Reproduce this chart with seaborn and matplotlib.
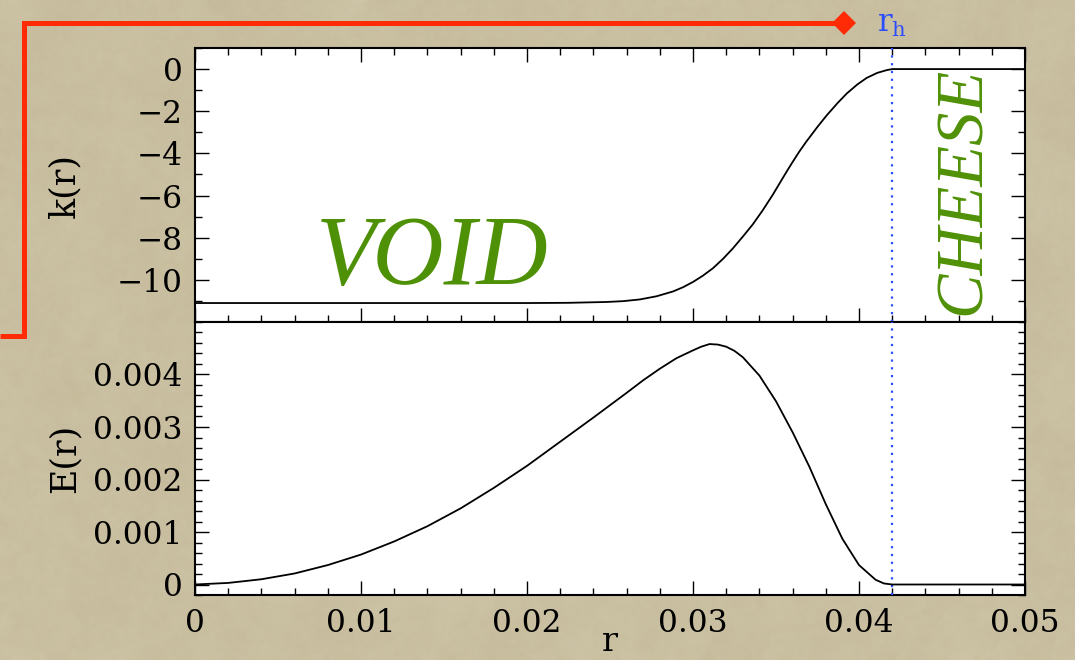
import numpy as np
import matplotlib
matplotlib.use("Agg")
import matplotlib.pyplot as plt
import matplotlib.transforms as mtransforms
from matplotlib.colors import LinearSegmentedColormap
from matplotlib.lines import Line2D
from matplotlib.ticker import MultipleLocator
import seaborn as sns

# Curvature profile k(r) of the LTB hole
r_k = [0.0, 0.005, 0.010, 0.015, 0.020, 0.0225, 0.0248, 0.0258, 0.0268, 0.0278,
       0.0288, 0.0294, 0.0300, 0.0306, 0.0312, 0.0318, 0.0324, 0.0330, 0.0336,
       0.0342, 0.0348, 0.0354, 0.0357, 0.0360, 0.0364, 0.0368, 0.0375, 0.03805,
       0.0387, 0.03926, 0.0399, 0.04046, 0.0411, 0.04167, 0.042, 0.046, 0.050]
k_vals = [-11.1, -11.1, -11.1, -11.1, -11.1, -11.09, -11.05, -11.01, -10.93, -10.78,
          -10.55, -10.35, -10.10, -9.80, -9.45, -9.01, -8.51, -7.95, -7.37,
          -6.70, -5.97, -5.18, -4.79, -4.41, -3.92, -3.47, -2.74, -2.20,
          -1.62, -1.16, -0.73, -0.42, -0.18, -0.05, 0.0, 0.0, 0.0]

# Energy function E(r)
r_E = [0.0, 0.002, 0.004, 0.006, 0.008, 0.010, 0.012, 0.014, 0.016, 0.018, 0.020,
       0.022, 0.024, 0.026, 0.027, 0.028, 0.029, 0.030, 0.0305, 0.031, 0.0315,
       0.032, 0.0325, 0.033, 0.034, 0.035, 0.036, 0.037, 0.038, 0.039, 0.040,
       0.041, 0.0415, 0.042, 0.046, 0.050]
E_vals = [0.0, 0.00003, 0.0001, 0.00021, 0.00037, 0.00057, 0.00082, 0.00111, 0.00145,
          0.00184, 0.00226, 0.00272, 0.00318, 0.00365, 0.00389, 0.00411, 0.00431,
          0.00446, 0.00453, 0.00458, 0.00457, 0.00453, 0.00445, 0.00433, 0.00398,
          0.00349, 0.00290, 0.00225, 0.00153, 0.00087, 0.00037, 0.00009, 0.00002,
          0.0, 0.0, 0.0]

r_hole = 0.042
x_ticks = [0, 0.01, 0.02, 0.03, 0.04, 0.05]
x_ticklabels = ["0", "0.01", "0.02", "0.03", "0.04", "0.05"]
k_ticks = [0, -2, -4, -6, -8, -10]
E_ticks = [0, 0.001, 0.002, 0.003, 0.004]
E_ticklabels = ["0", "0.001", "0.002", "0.003", "0.004"]

sns.set_theme(style="ticks")
plt.rcParams["font.family"] = ["DejaVu Serif"]
plt.rcParams["mathtext.fontset"] = "dejavuserif"

BG = "#cac0a2"
GREEN = "#4f9106"
BLUE = "#2a4dff"
RED = "#ff2a06"

fig = plt.figure(figsize=(10.75, 6.6), dpi=100, facecolor=BG)

# parchment texture behind everything
bg_ax = fig.add_axes([0, 0, 1, 1], zorder=-10)
rng = np.random.default_rng(3)
layers = [
    ((18, 30), ["#bfb392", "#d3caae"], 0.55),
    ((70, 115), ["#c2b796", "#d2c9ad"], 0.35),
    ((220, 360), ["#c0b594", "#d4cbb0"], 0.25),
]
for shape, cols, alpha in layers:
    bg_ax.imshow(rng.normal(size=shape), cmap=LinearSegmentedColormap.from_list("p", cols),
                 extent=[0, 1, 0, 1], aspect="auto", interpolation="bicubic",
                 vmin=-2.2, vmax=2.2, alpha=alpha)
bg_ax.set_xlim(0, 1)
bg_ax.set_ylim(0, 1)
bg_ax.axis("off")

left, right = 195 / 1075, 1025 / 1075
y_top, y_mid, y_bot = 1 - 48 / 660, 1 - 322 / 660, 1 - 595 / 660
ax1 = fig.add_axes([left, y_mid, right - left, y_top - y_mid])
ax2 = fig.add_axes([left, y_bot, right - left, y_mid - y_bot])

for ax in (ax1, ax2):
    ax.set_facecolor("white")
    for s in ax.spines.values():
        s.set_linewidth(1.5)
        s.set_color("black")
    ax.set_xlim(0, 0.05)
    ax.xaxis.set_major_locator(MultipleLocator(0.01))
    ax.xaxis.set_minor_locator(MultipleLocator(0.002))
    ax.tick_params(which="major", direction="in", length=10, width=1.0, color="black",
                   labelsize=22.5, pad=9, labelcolor="black")
    ax.tick_params(which="minor", direction="in", length=5, width=1.0, color="black")
    ax.axvline(r_hole, color=BLUE, lw=1.6, ls=(0, (1, 2.5)), zorder=3)

sns.lineplot(x=r_k, y=k_vals, ax=ax1, color="black", lw=1.3, sort=False,
             estimator=None, zorder=4)
sns.lineplot(x=r_E, y=E_vals, ax=ax2, color="black", lw=1.3, sort=False,
             estimator=None, zorder=4)

ax1.set_ylim(-12, 1)
ax1.set_yticks(k_ticks)
ax1.yaxis.set_minor_locator(MultipleLocator(1))
ax1.tick_params(axis="x", which="both", top=True, bottom=True, labelbottom=False)
ax1.tick_params(axis="y", which="both", left=True, right=True)
ax1.set_xticks(x_ticks)
ax1.set_xticklabels([])

ax2.set_ylim(-0.0002, 0.005)
ax2.set_yticks(E_ticks)
ax2.set_yticklabels(E_ticklabels)
ax2.yaxis.set_minor_locator(MultipleLocator(0.0002))
ax2.tick_params(axis="x", which="both", top=False, bottom=True)
ax2.tick_params(axis="y", which="both", left=True, right=True)
ax2.set_xticks(x_ticks)
ax2.set_xticklabels(x_ticklabels)

ax1.set_ylabel("k(r)", fontsize=25, color="black")
ax2.set_ylabel("E(r)", fontsize=25, color="black")
ax1.yaxis.set_label_coords(-0.137, 0.5)
ax2.yaxis.set_label_coords(-0.137, 0.5)
ax2.set_xlabel("r", fontsize=24, color="black")
ax2.xaxis.set_label_coords(0.5, -0.115)

ax1.text(0.01428, -10.2, "VOID", fontfamily="Liberation Serif", fontstyle="italic",
         fontsize=71, color=GREEN, ha="center", va="baseline", zorder=5)
ax1.text(0.0463, -5.8, "CHEESE", fontfamily="Liberation Serif", fontstyle="italic",
         fontsize=48, color=GREEN, ha="center", va="center", rotation=90, zorder=5)

# r_h marker above the panel
trans = mtransforms.blended_transform_factory(ax1.transData, fig.transFigure)
ax1.text(r_hole, 1 - 32 / 660, r"$\mathregular{r_h}$", transform=trans, fontsize=22,
         color=BLUE, ha="center", va="baseline", clip_on=False)

# red bracket leading to the hole radius
px = np.array([0, 24, 24, 844]) / 1075
py = 1 - np.array([336, 336, 23, 23]) / 660
fig.add_artist(Line2D(px, py, color=RED, lw=3.6, solid_joinstyle="miter",
                      solid_capstyle="butt", transform=fig.transFigure))
fig.add_artist(Line2D([px[-1]], [py[-1]], marker="D", markersize=12.5, color=RED,
                      markeredgewidth=0, transform=fig.transFigure))

fig.savefig("out.png", dpi=100, facecolor=BG)
